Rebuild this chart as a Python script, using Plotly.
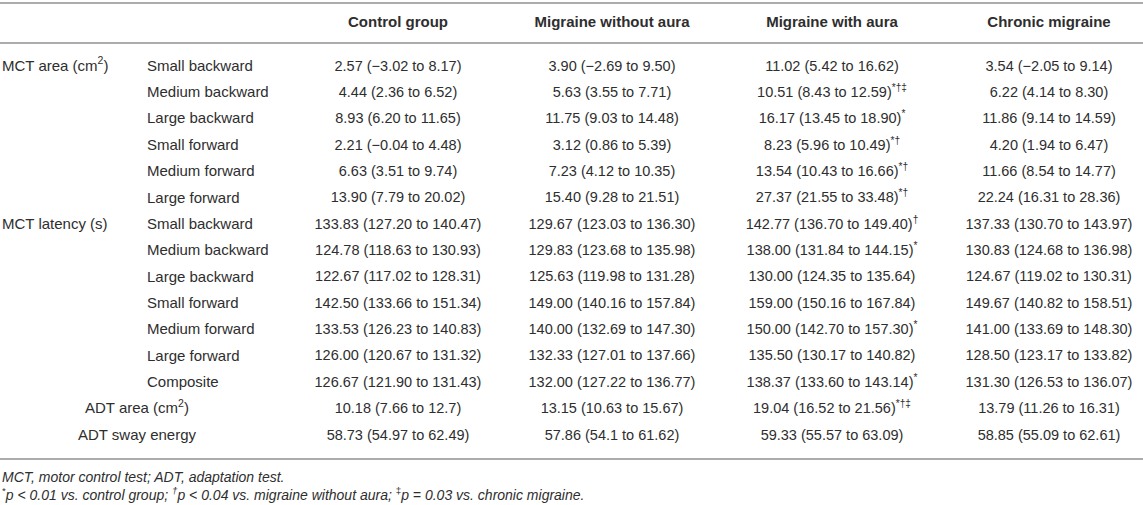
import plotly.graph_objects as go

# table content
groups = ["Control group", "Migraine without aura", "Migraine with aura", "Chronic migraine"]

measures = ["MCT area (cm<sup>2</sup>)", "", "", "", "", "",
            "MCT latency (s)", "", "", "", "", "", "", "", ""]
conditions = ["Small backward", "Medium backward", "Large backward",
              "Small forward", "Medium forward", "Large forward",
              "Small backward", "Medium backward", "Large backward",
              "Small forward", "Medium forward", "Large forward",
              "Composite", "", ""]
adt_labels = ["", "", "", "", "", "", "", "", "", "", "", "", "",
              "ADT area (cm<sup>2</sup>)", "ADT sway energy"]

control = ["2.57 (−3.02 to 8.17)", "4.44 (2.36 to 6.52)", "8.93 (6.20 to 11.65)",
           "2.21 (−0.04 to 4.48)", "6.63 (3.51 to 9.74)", "13.90 (7.79 to 20.02)",
           "133.83 (127.20 to 140.47)", "124.78 (118.63 to 130.93)", "122.67 (117.02 to 128.31)",
           "142.50 (133.66 to 151.34)", "133.53 (126.23 to 140.83)", "126.00 (120.67 to 131.32)",
           "126.67 (121.90 to 131.43)", "10.18 (7.66 to 12.7)", "58.73 (54.97 to 62.49)"]
no_aura = ["3.90 (−2.69 to 9.50)", "5.63 (3.55 to 7.71)", "11.75 (9.03 to 14.48)",
           "3.12 (0.86 to 5.39)", "7.23 (4.12 to 10.35)", "15.40 (9.28 to 21.51)",
           "129.67 (123.03 to 136.30)", "129.83 (123.68 to 135.98)", "125.63 (119.98 to 131.28)",
           "149.00 (140.16 to 157.84)", "140.00 (132.69 to 147.30)", "132.33 (127.01 to 137.66)",
           "132.00 (127.22 to 136.77)", "13.15 (10.63 to 15.67)", "57.86 (54.1 to 61.62)"]
with_aura = ["11.02 (5.42 to 16.62)", "10.51 (8.43 to 12.59)<sup>*†‡</sup>",
             "16.17 (13.45 to 18.90)<sup>*</sup>", "8.23 (5.96 to 10.49)<sup>*†</sup>",
             "13.54 (10.43 to 16.66)<sup>*†</sup>", "27.37 (21.55 to 33.48)<sup>*†</sup>",
             "142.77 (136.70 to 149.40)<sup>†</sup>", "138.00 (131.84 to 144.15)<sup>*</sup>",
             "130.00 (124.35 to 135.64)", "159.00 (150.16 to 167.84)",
             "150.00 (142.70 to 157.30)<sup>*</sup>", "135.50 (130.17 to 140.82)",
             "138.37 (133.60 to 143.14)<sup>*</sup>", "19.04 (16.52 to 21.56)<sup>*†‡</sup>",
             "59.33 (55.57 to 63.09)"]
chronic = ["3.54 (−2.05 to 9.14)", "6.22 (4.14 to 8.30)", "11.86 (9.14 to 14.59)",
           "4.20 (1.94 to 6.47)", "11.66 (8.54 to 14.77)", "22.24 (16.31 to 28.36)",
           "137.33 (130.70 to 143.97)", "130.83 (124.68 to 136.98)", "124.67 (119.02 to 130.31)",
           "149.67 (140.82 to 158.51)", "141.00 (133.69 to 148.30)", "128.50 (123.17 to 133.82)",
           "131.30 (126.53 to 136.07)", "13.79 (11.26 to 16.31)", "58.85 (55.09 to 62.61)"]

footnotes = ["<i>MCT, motor control test; ADT, adaptation test.</i>",
             "<sup>*</sup><i>p < 0.01 vs. control group; </i><sup><i>†</i></sup><i>p < 0.04 vs. migraine without aura; </i>"
             "<sup>‡</sup><i>p = 0.03 vs. chronic migraine.</i>"]

# layout: pixel positions
W, H = 1143, 505
row0_px, row_px = 67, 26.35  # first row centre and row pitch in pixels


def to_row(px):
    return (px - row0_px) / row_px


FONT = "Liberation Sans"
TXT = "#2e2e2e"
LINE = "#acacac"
col_x = [398, 612, 832, 1049]

fig = go.Figure()


def text_col(x, texts, pos, size):
    # skip empty cells so every drawn text has content
    ys = [i for i, t in enumerate(texts) if t]
    fig.add_trace(go.Scatter(x=[x] * len(ys), y=ys, text=[texts[i] for i in ys], mode="text",
                             textposition=pos, hoverinfo="skip",
                             textfont=dict(family=FONT, size=size, color=TXT)))


# left label columns
text_col(2, measures, "middle right", 15)
text_col(147, conditions, "middle right", 15)
text_col(137, adt_labels, "middle center", 15)

# data columns
for cx, vals in zip(col_x, [control, no_aura, with_aura, chronic]):
    text_col(cx, vals, "middle center", 14.5)

# header
fig.add_trace(go.Scatter(x=col_x, y=[to_row(23)] * 4, text=["<b>%s</b>" % g for g in groups],
                         mode="text", textposition="middle center", hoverinfo="skip",
                         textfont=dict(family=FONT, size=15, color=TXT)))

# horizontal rules
for py in [3, 43, 459]:
    fig.add_shape(type="line", xref="paper", x0=0, x1=1, yref="y", y0=to_row(py), y1=to_row(py),
                  line=dict(color=LINE, width=2))

for py, note in zip([487, 504.5], footnotes):
    fig.add_annotation(x=0, y=to_row(py), xref="paper", yref="y", text=note,
                       showarrow=False, xanchor="left", yanchor="bottom",
                       font=dict(family=FONT, size=14, color=TXT))

fig.update_layout(
    width=W, height=H,
    margin=dict(l=0, r=0, t=0, b=0),
    paper_bgcolor="white", plot_bgcolor="white",
    showlegend=False,
    xaxis=dict(range=[0, W], visible=False, fixedrange=True),
    yaxis=dict(range=[to_row(H), to_row(0)], visible=False, fixedrange=True),
)

# drop the default page margin so the figure fills the window
fig.write_html("out.html", config={"displayModeBar": False},
               post_script="document.body.style.margin='0';")
